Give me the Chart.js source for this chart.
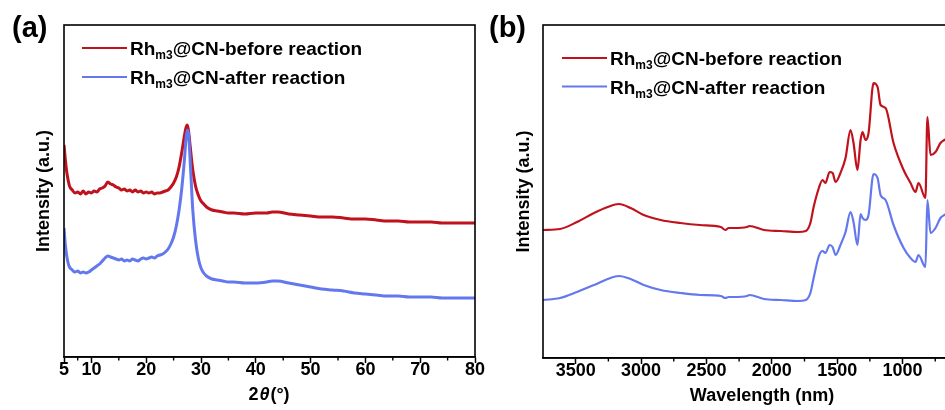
<!DOCTYPE html>
<html lang="en">
<head>
<meta charset="UTF-8">
<title>Rhm3@CN before / after reaction</title>
<script src="https://cdn.jsdelivr.net/npm/chart.js@4.4.1/dist/chart.umd.min.js"></script>
<style>
  html, body { margin: 0; padding: 0; background: #fff; overflow: hidden; }
  body { width: 945px; height: 410px; position: relative; }
  canvas { position: absolute; top: 0; }
  #xrdChart { left: 0; }
  #irChart { left: 480px; }
</style>
</head>
<body>
<canvas id="xrdChart" width="490" height="410"></canvas>
<canvas id="irChart" width="520" height="410"></canvas>
<script>
const FONT = "'Liberation Sans', Arial, Helvetica, sans-serif";

// (a) XRD patterns
const xrdAngle = [5, 5.25, 5.5, 5.75, 6, 6.5, 7, 7.5, 8, 8.5, 9, 9.5, 10, 10.5, 11, 11.5, 12, 12.5, 13, 13.5,
  14, 14.5, 15, 15.5, 16, 16.5, 17, 17.5, 18, 18.5, 19, 19.5, 20, 20.5, 21, 21.5, 22, 22.5, 23, 23.5,
  24, 24.5, 25, 25.5, 26, 26.5, 27, 27.25, 27.5, 27.75, 28, 28.25, 28.5, 29, 29.5, 30, 30.5, 31, 32, 33,
  34, 35, 36, 38, 40, 42, 43, 44, 46, 48, 50, 52, 54, 56, 58, 60, 62, 64, 66, 68, 70, 72, 74, 76, 78, 80];
const xrdBefore = [212, 197, 185, 177, 171, 167, 164, 165, 163, 166, 163, 165, 164, 166, 165, 168, 169, 171, 175, 173,
  172, 170, 169, 167, 168, 166, 167, 165, 167, 165, 166, 164, 165, 164, 165, 163, 164, 164, 165, 166,
  167, 170, 174, 180, 190, 205, 222, 229, 232, 225, 212, 199, 187, 171, 162, 156, 153, 150, 147, 146,
  145, 144, 144, 143, 144, 144, 145, 145, 143, 142, 141, 140, 140, 139, 138, 138, 137, 136, 136, 135, 135, 135, 134, 134, 134, 134];
const xrdAfter = [129, 112, 101, 94, 90, 87, 85, 86, 84, 85, 84, 85, 87, 89, 91, 93, 96, 99, 101, 100,
  99, 98, 97, 98, 96, 97, 96, 98, 97, 96, 98, 99, 98, 99, 100, 99, 101, 102, 103, 105,
  108, 113, 120, 131, 147, 169, 199, 217, 227, 222, 199, 172, 147, 117, 99, 89, 84, 81, 78, 77,
  76, 75, 75, 74, 74, 75, 76, 76, 74, 72, 70, 68, 67, 66, 64, 63, 62, 61, 61, 60, 60, 60, 59, 59, 59, 59];
const xrdMajorTicks = [5, 10, 20, 30, 40, 50, 60, 70, 80];
const xrdMinorTicks = [7.5, 15, 25, 35, 45, 55, 65, 75];

// (b) IR spectra
const irWavelength = [3750, 3620, 3490, 3360, 3255, 3170, 3080, 2980, 2850, 2700,
  2550, 2390, 2355, 2330, 2290, 2190, 2170, 2060, 1930, 1800,
  1740, 1705, 1680, 1640, 1612, 1590, 1558, 1535, 1512, 1475,
  1436, 1398, 1375, 1345, 1321, 1306, 1283, 1260, 1222, 1191,
  1168, 1130, 1069, 992, 939, 901, 878, 825, 810, 786,
  748, 710, 680, 640];
const irBefore = [128, 129, 136, 145, 151, 154, 150, 143, 138, 135,
  133, 131, 128, 130, 130, 131, 132, 128, 127, 126,
  127, 135, 151, 170, 178, 175, 186, 185, 176, 185,
  200, 228, 215, 188, 218, 226, 218, 225, 275, 271,
  253, 250, 215, 188, 175, 166, 175, 160, 241, 203,
  206, 215, 218, 221];
const irAfter = [58, 60, 66, 73, 79, 82, 79, 73, 68, 65,
  63, 62, 60, 61, 61, 62, 63, 59, 58, 57,
  58, 65, 80, 102, 107, 105, 113, 111, 103, 113,
  126, 146, 136, 113, 144, 140, 138, 143, 184, 180,
  163, 158, 133, 110, 100, 96, 103, 91, 158, 125,
  130, 140, 143, 146];
const irMajorTicks = [3500, 3000, 2500, 2000, 1500, 1000, 500];
const irMinorTicks = [3250, 2750, 2250, 1750, 1250, 750];

const sampleHead = 'Rh';
const sampleSub = 'm3';
const seriesLabels = ['@CN-before reaction', '@CN-after reaction'];
const seriesColors = ['#c0121c', '#6478ee'];

Chart.defaults.font.family = FONT;
Chart.defaults.color = '#000';

// box frame, minor ticks, legend with subscript, panel letter, 2θ title
const decor = {
  id: 'decor',
  afterDraw(chart, args, opts) {
    const { ctx, chartArea: a } = chart;
    ctx.save();
    ctx.strokeStyle = '#000';
    ctx.lineWidth = 1.6;
    ctx.strokeRect(a.left, a.top, a.right - a.left, a.bottom - a.top);

    const xs = chart.scales.x;
    ctx.lineWidth = 1.4;
    opts.minor.forEach(v => {
      const px = xs.getPixelForValue(v);
      ctx.beginPath();
      ctx.moveTo(px, a.bottom);
      ctx.lineTo(px, a.bottom + 3.5);
      ctx.stroke();
    });

    seriesLabels.forEach((label, i) => {
      const y = opts.legendY + i * opts.legendGap;
      ctx.strokeStyle = seriesColors[i];
      ctx.lineWidth = 2;
      ctx.beginPath();
      ctx.moveTo(opts.legendX, y);
      ctx.lineTo(opts.legendX + 45, y);
      ctx.stroke();
      let tx = opts.legendX + 48;
      ctx.fillStyle = '#000';
      ctx.textBaseline = 'alphabetic';
      ctx.font = 'bold 19px ' + FONT;
      ctx.fillText(sampleHead, tx, y + 7);
      tx += ctx.measureText(sampleHead).width;
      ctx.font = 'bold 12px ' + FONT;
      ctx.fillText(sampleSub, tx, y + 11);
      tx += ctx.measureText(sampleSub).width;
      ctx.font = 'bold 19px ' + FONT;
      ctx.fillText(label, tx, y + 7);
    });

    ctx.font = 'bold 29px ' + FONT;
    ctx.textBaseline = 'middle';
    ctx.fillText(opts.panel, opts.panelX, 29);

    if (opts.thetaTitle) {
      const parts = [['2', 'bold 18px ' + FONT], ['θ', 'italic bold 18px ' + FONT], ['(°)', 'bold 18px ' + FONT]];
      let w = 0;
      parts.forEach(p => { ctx.font = p[1]; w += ctx.measureText(p[0]).width + 1; });
      let tx = (a.left + a.right) / 2 - w / 2;
      ctx.textBaseline = 'middle';
      parts.forEach(p => { ctx.font = p[1]; ctx.fillText(p[0], tx, 395); tx += ctx.measureText(p[0]).width + 1; });
    }
    ctx.restore();
  }
};

function makeChart(id, xs, ys, xOpts, yMax, extra) {
  return new Chart(document.getElementById(id), {
    type: 'line',
    data: {
      datasets: ys.map((vals, i) => ({
        data: xs.map((x, k) => ({ x: x, y: vals[k] })),
        borderColor: seriesColors[i],
        borderWidth: extra.lineWidth,
        pointRadius: 0,
        cubicInterpolationMode: 'monotone',
        order: 2 - i
      }))
    },
    options: {
      responsive: false,
      animation: false,
      events: [],
      layout: { padding: { top: 25, right: extra.padRight, left: 0, bottom: 0 } },
      plugins: { legend: { display: false }, tooltip: { enabled: false }, decor: extra.decor },
      scales: {
        x: Object.assign({
          type: 'linear',
          grid: { drawOnChartArea: false, drawTicks: true, tickLength: 6, tickColor: '#000', tickWidth: 1.5 },
          border: { display: true, color: '#000', width: 1.6 },
          ticks: {
            autoSkip: false, maxRotation: 0, padding: -4, color: '#000',
            font: { size: 18, weight: 'bold' },
            callback: v => String(v)
          },
          title: { display: extra.xTitle !== '', text: extra.xTitle, color: '#000', font: { size: 18, weight: 'bold' }, padding: { top: 0, bottom: 3 } },
          afterFit: s => { s.height = extra.xHeight; s.paddingLeft = 0; s.paddingRight = 0; }
        }, xOpts),
        y: {
          min: 0, max: yMax,
          grid: { display: false },
          border: { display: false },
          ticks: { display: false },
          title: { display: true, text: 'Intensity (a.u.)', color: '#000', font: { size: 18, weight: 'bold' }, padding: { top: 33, bottom: 0 } },
          afterFit: s => { s.width = extra.yWidth; }
        }
      }
    },
    plugins: [decor]
  });
}

makeChart('xrdChart', xrdAngle, [xrdBefore, xrdAfter], {
  min: 5, max: 80,
  afterBuildTicks: s => { s.ticks = xrdMajorTicks.map(v => ({ value: v })); }
}, 332, {
  padRight: 15, xHeight: 53, yWidth: 64, xTitle: '', lineWidth: 3,
  decor: { minor: xrdMinorTicks, legendX: 82, legendY: 48, legendGap: 29, panel: '(a)', panelX: 12, thetaTitle: true }
});

makeChart('irChart', irWavelength, [irBefore, irAfter], {
  min: 400, max: 3750, reverse: true,
  afterBuildTicks: s => { s.ticks = irMajorTicks.map(v => ({ value: v })); }
}, 333, {
  padRight: 19, xHeight: 52, yWidth: 63, xTitle: 'Wavelength (nm)', lineWidth: 2.2,
  decor: { minor: irMinorTicks, legendX: 82, legendY: 58, legendGap: 28.5, panel: '(b)', panelX: 9, thetaTitle: false }
});
</script>
</body>
</html>
